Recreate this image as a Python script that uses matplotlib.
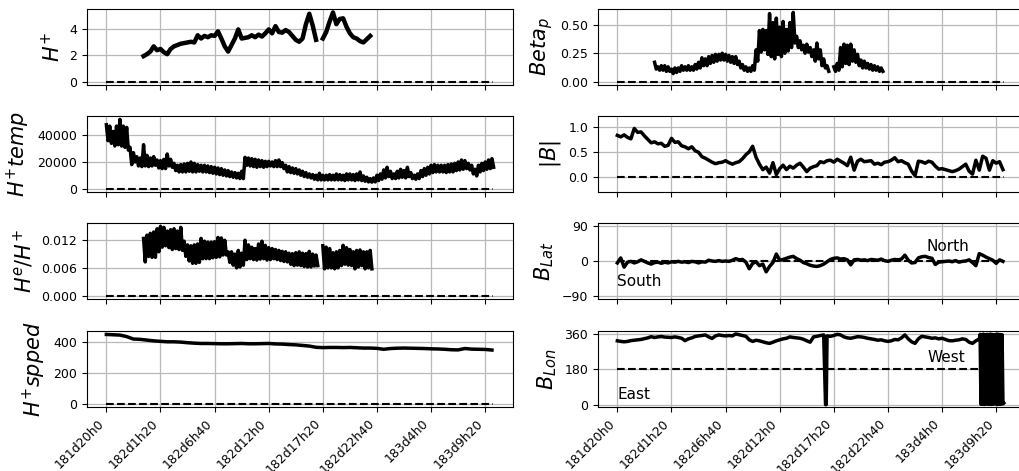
import numpy as np
import matplotlib
matplotlib.use("Agg")
import matplotlib.pyplot as plt

nan = np.nan

# ---------------- data (minutes since 181d20h0) ----------------
tick_minutes = [0, 320, 640, 960, 1280, 1600, 1920, 2240]
tick_labels = ["181d20h0", "182d1h20", "182d6h40", "182d12h0",
               "182d17h20", "182d22h40", "183d4h0", "183d9h20"]
full_span = [0, 2285]

# partial series: start 220 min, 20 min step
part_start, part_step = 220, 20
hp_density = [1.95, 2.1, 2.3, 2.7, 2.4, 2.5, 2.25, 2.1, 2.5, 2.7,
              2.8, 2.9, 2.95, 3.0, 3.05, 3.0, 3.55, 3.3, 3.5, 3.4,
              3.55, 3.5, 3.85, 3.3, 2.7, 2.3, 2.8, 3.3, 4.0, 3.3,
              3.35, 3.4, 3.55, 3.4, 3.6, 3.45, 3.7, 4.0, 3.7, 4.25,
              3.8, 3.75, 3.95, 3.8, 3.5, 3.2, 3.05, 3.3, 4.4, 5.2,
              4.3, 3.2, nan, 3.3, 3.8, 4.6, 5.3, 4.4, 4.8, 4.85,
              4.2, 3.7, 3.4, 3.3, 3.1, 3.0, 3.25, 3.5]
# noisy series given as upper / lower envelope of the noise band
beta_hi = [.17, .13, .14, .14, .13, .11, .12, .12, .14, .13,
           .14, .13, .15, .17, .21, .20, .22, .23, .24, .24,
           .25, .24, .23, .22, .22, .18, .15, .13, .12, .14,
           .28, .45, .46, .45, .60, .52, .56, .48, .53, .46,
           .52, .61, .40, .36, .32, .33, .30, .28, .34, .28,
           .20, .14, nan, .13, .16, .30, .33, .32, .33, .28,
           .24, .19, .18, .16, .15, .14, .13, .12]
beta_lo = [.11, .10, .10, .09, .09, .07, .08, .09, .10, .10,
           .10, .10, .11, .12, .14, .14, .16, .17, .18, .19,
           .19, .18, .17, .16, .15, .12, .10, .09, .09, .10,
           .18, .26, .28, .24, .22, .20, .24, .22, .25, .27,
           .30, .34, .30, .28, .25, .26, .22, .18, .20, .14,
           .12, .09, nan, .09, .10, .13, .16, .15, .18, .17,
           .14, .12, .12, .11, .10, .10, .09, .09]
he_hi = [.0124, .0131, .0135, .0138, .0145, .0150, .0148, .0140, .0143, .0145,
         .0140, .0148, .0118, .0110, .0108, .0110, .0112, .0124, .0118, .0116,
         .0116, .0117, .0126, .0125, .0120, .0095, .0095, .0090, .0098, .0092,
         .0120, .0110, .0105, .0102, .0112, .0118, .0109, .0104, .0102, .0100,
         .0098, .0096, .0095, .0092, .0091, .0093, .0095, .0092, .0091, .0096,
         .0090, .0088, nan, .0108, .0105, .0102, .0093, .0095, .0098, .0109,
         .0104, .0100, .0095, .0098, .0099, .0095, .0095, .0098]
he_lo = [.0073, .0085, .0083, .0083, .0095, .0105, .0108, .0104, .0100, .0102,
         .0100, .0098, .0085, .0075, .0070, .0070, .0072, .0080, .0080, .0080,
         .0082, .0083, .0084, .0088, .0088, .0072, .0066, .0060, .0062, .0066,
         .0078, .0080, .0078, .0077, .0079, .0080, .0077, .0078, .0080, .0078,
         .0076, .0074, .0073, .0068, .0065, .0066, .0065, .0063, .0062, .0062,
         .0064, .0065, nan, .0058, .0060, .0060, .0058, .0060, .0065, .0068,
         .0066, .0065, .0058, .0062, .0065, .0058, .0060, .0058]

# full series: start 0 min, 20 min step
full_step = 20
temp_hi = [48000, 47000, 43000, 47000, 52000, 47000, 46000, 31000, 27000, 24000,
           23000, 33000, 25000, 23000, 24000, 21500, 21000, 22000, 26000, 22000,
           19000, 17500, 18000, 18500, 19000, 20000, 19000, 18000, 17500, 17500,
           17000, 16500, 16000, 15500, 15000, 14000, 13500, 12500, 12000, 11500,
           13000, 23500, 23000, 22500, 22000, 21500, 21000, 20500, 20500, 20000,
           21000, 21500, 19500, 17500, 16500, 15500, 15000, 14000, 13000, 12000,
           11000, 10500, 10000, 11500, 10000, 10000, 10500, 10000, 11000, 10500,
           10000, 11000, 11000, 10500, 11000, 12500, 9500, 8500, 7500, 8000,
           10000, 11000, 14000, 16000, 13000, 11000, 13000, 14500, 13500, 16000,
           12000, 10000, 11000, 13500, 15000, 16000, 17500, 18000, 17500, 17500,
           17500, 18000, 18500, 19000, 20000, 21500, 21000, 19000, 17500, 14500,
           17500, 19000, 20000, 21500, 22500]
temp_lo = [36000, 34000, 32000, 33000, 32000, 31000, 29000, 18000, 20000, 17000,
           16500, 17000, 16500, 17000, 17500, 15500, 15000, 15000, 17000, 16000,
           13500, 12500, 12500, 12500, 13000, 12500, 12500, 13000, 12500, 12500,
           12000, 11500, 11000, 10500, 10000, 9500, 9000, 8500, 8000, 7500,
           7500, 17500, 17000, 16500, 16000, 16500, 16000, 16500, 17000, 16500,
           16500, 16500, 15000, 12500, 12000, 11500, 11000, 10000, 9000, 8500,
           8000, 7000, 6500, 6500, 6500, 6500, 6500, 6500, 6500, 6500,
           6000, 6500, 6500, 6000, 6500, 6000, 5500, 5000, 4800, 5000,
           6000, 7000, 8000, 9000, 7500, 7500, 8000, 8500, 8000, 9000,
           7500, 7000, 7500, 9000, 10000, 11000, 12000, 12500, 12500, 12500,
           12000, 12500, 12500, 13500, 14000, 14500, 15000, 14000, 11000, 9500,
           12500, 13500, 14500, 15000, 16000]
b_mag = [0.84, 0.81, 0.85, 0.80, 0.77, 0.98, 0.90, 0.91, 0.83, 0.76,
         0.69, 0.71, 0.67, 0.68, 0.62, 0.64, 0.78, 0.70, 0.71, 0.63,
         0.61, 0.57, 0.61, 0.53, 0.50, 0.41, 0.38, 0.34, 0.30, 0.27,
         0.29, 0.30, 0.33, 0.29, 0.26, 0.29, 0.31, 0.37, 0.45, 0.51,
         0.62, 0.40, 0.26, 0.15, 0.20, 0.08, 0.29, 0.05, 0.17, 0.24,
         0.15, 0.22, 0.18, 0.24, 0.28, 0.20, 0.11, 0.18, 0.21, 0.23,
         0.31, 0.29, 0.33, 0.34, 0.30, 0.36, 0.32, 0.28, 0.23, 0.40,
         0.14, 0.32, 0.36, 0.31, 0.32, 0.33, 0.26, 0.28, 0.25, 0.30,
         0.31, 0.34, 0.39, 0.31, 0.33, 0.29, 0.26, 0.12, 0.03, 0.32,
         0.31, 0.28, 0.32, 0.30, 0.22, 0.16, 0.17, 0.15, 0.13, 0.11,
         0.13, 0.16, 0.21, 0.26, 0.12, 0.06, 0.34, 0.14, 0.42, 0.38,
         0.14, 0.33, 0.28, 0.31, 0.15]
b_lat = [-5, 8, -16, -3, -1, -5, -2, 3, -1, -5,
         -8, -4, -3, -6, -3, -5, -2, -3, -1, -3,
         -2, -4, -1, -2, -5, -2, -3, 2, 0, -1,
         1, -1, 0, -1, 2, 6, 3, 4, -3, -20,
         -6, -2, -12, -8, -28, -14, -4, 18, 2, 4,
         7, 10, 12, 6, 2, -4, -7, -11, -13, -14,
         -12, -8, -2, 4, 7, 8, 5, 6, 3, -10,
         3, 4, 2, 3, 1, 4, 3, 2, 5, 1,
         -1, 2, 4, 3, 5, 15, 2, -5, -4, 8,
         11, 12, 9, 7, -9, -3, -2, -1, 0, -2,
         1, -3, -1, 0, 3, -4, -12, 19, 15, 10,
         6, 2, -6, 3, -1]
b_lon = [325, 322, 320, 322, 326, 328, 330, 332, 336, 340,
         346, 342, 345, 347, 344, 343, 342, 345, 342, 338,
         326, 335, 340, 347, 350, 352, 355, 345, 337, 350,
         355, 352, 350, 352, 350, 360, 356, 352, 348, 330,
         322, 328, 325, 320, 315, 312, 318, 325, 330, 335,
         338, 345, 342, 340, 338, 333, 325, 318, 345, 348,
         352, 355, 350, 348, 352, 358, 355, 345, 340, 338,
         342, 346, 345, 342, 338, 335, 332, 328, 330, 325,
         322, 325, 332, 330, 340, 355, 335, 320, 312, 335,
         348, 345, 342, 338, 340, 335, 338, 332, 326, 325,
         328, 330, 335, 332, 318, 312, 325, 335]
lon_drop_t = [1231, 1235]
lon_drop_v = [0, 0]
lon_tail_start, lon_tail_step = 2145, 5
lon_tail = [358, 2, 357, 3, 359, 1, 356, 4, 358, 2,
            357, 3, 359, 1, 358, 2, 356, 4, 357, 3,
            359, 1, 358, 2, 357, 3, 356, 4, 8]

# speed: start 0, 40 min step
speed_step = 40
hp_speed = [452, 450, 448, 438, 422, 420, 415, 410, 407, 404,
            404, 402, 398, 395, 393, 393, 392, 391, 391, 392,
            393, 391, 391, 392, 393, 390, 389, 386, 384, 380,
            376, 368, 366, 367, 367, 366, 367, 365, 363, 363,
            361, 355, 360, 362, 363, 362, 361, 360, 358, 357,
            355, 352, 351, 360, 356, 355, 354, 350]


def band_path(t, hi, lo, half_step):
    """Trace the noisy signal: upper sample at t, lower sample half a step later."""
    t = np.asarray(t, dtype=float)
    tt = np.empty(2 * len(t))
    vv = np.empty(2 * len(t))
    tt[0::2] = t
    tt[1::2] = t + half_step
    vv[0::2] = hi
    vv[1::2] = lo
    return tt, vv


# ---------------- figure ----------------
fig = plt.figure(figsize=(10.2, 4.71), dpi=100)
W, H = 1020.0, 471.0
lefts = [87 / W, 598 / W]
width = 426 / W
bottoms = [1 - 85 / H, 1 - 192 / H, 1 - 299 / H, 1 - 407 / H]
height = 76 / H

axes = [[None, None] for _ in range(4)]
first = None
for r in range(4):
    for c in range(2):
        ax = fig.add_axes([lefts[c], bottoms[r], width, height])
        if first is None:
            first = ax
        else:
            ax.sharex(first)
        axes[r][c] = ax

t_part = part_start + part_step * np.arange(len(hp_density))
t_full = full_step * np.arange(len(b_mag))
t_speed = speed_step * np.arange(len(hp_speed))
t_lon_main = full_step * np.arange(len(b_lon))
t_lon_tail = lon_tail_start + lon_tail_step * np.arange(len(lon_tail))
t_lon = np.concatenate([t_lon_main, lon_drop_t, t_lon_tail])
v_lon = np.concatenate([b_lon, lon_drop_v, lon_tail])
order = np.argsort(t_lon, kind="stable")
t_lon, v_lon = t_lon[order], v_lon[order]

t_beta, v_beta = band_path(t_part, beta_hi, beta_lo, part_step / 2)
t_he, v_he = band_path(t_part, he_hi, he_lo, part_step / 2)
t_temp, v_temp = band_path(t_full, temp_hi, temp_lo, full_step / 2)

LW = 2.5
DLW = 1.5
lab_fs = 15
tick_fs = 9

panels = [
    (axes[0][0], t_part, hp_density, 0, r"$H^{+}$", [0, 2, 4], None, None, 3.2),
    (axes[0][1], t_beta, v_beta, 0, r"$Beta_{p}$", [0, 0.25, 0.5], None,
     ["0.00", "0.25", "0.50"], LW),
    (axes[1][0], t_temp, v_temp, 0, r"$H^{+}temp$", [0, 20000, 40000], None, None, LW),
    (axes[1][1], t_full, b_mag, 0, r"$|B|$", [0, 0.5, 1.0], (-0.3, 1.23),
     ["0.0", "0.5", "1.0"], LW),
    (axes[2][0], t_he, v_he, 0, r"$H^{e}/H^{+}$", [0, 0.006, 0.012], None,
     ["0.000", "0.006", "0.012"], LW),
    (axes[2][1], t_full, b_lat, 0, r"$B_{Lat}$", [-90, 0, 90], (-98, 98), None, LW),
    (axes[3][0], t_speed, hp_speed, 0, r"$H^{+}spped$", [0, 200, 400], None, None, LW),
    (axes[3][1], t_lon, v_lon, 180, r"$B_{Lon}$", [0, 180, 360], (-12, 375), None, LW),
]

for ax, t, v, ref, lab, yt, ylim, ytl, lw in panels:
    ax.plot(t, v, color="black", lw=lw)
    ax.plot(full_span, [ref, ref], color="black", lw=DLW, ls="--")
    ax.set_ylabel(lab, fontsize=lab_fs)
    ax.set_yticks(yt)
    if ytl is not None:
        ax.set_yticklabels(ytl)
    if ylim is not None:
        ax.set_ylim(*ylim)
    ax.grid(True, color="#b8b8b8", lw=0.9)
    ax.set_axisbelow(True)
    ax.tick_params(labelsize=tick_fs)

for r in range(4):
    for c in range(2):
        ax = axes[r][c]
        ax.set_xticks(tick_minutes)
        if r < 3:
            ax.tick_params(labelbottom=False)
        else:
            ax.set_xticklabels(tick_labels, rotation=45, ha="right", fontsize=tick_fs)

axes[2][1].text(0, -72, "South", fontsize=11, va="bottom", ha="left")
axes[2][1].text(1827, 18, "North", fontsize=11, va="bottom", ha="left")
axes[3][1].text(0, 16, "East", fontsize=11, va="bottom", ha="left")
axes[3][1].text(1834, 200, "West", fontsize=11, va="bottom", ha="left")

fig.savefig("out.png", dpi=100)
